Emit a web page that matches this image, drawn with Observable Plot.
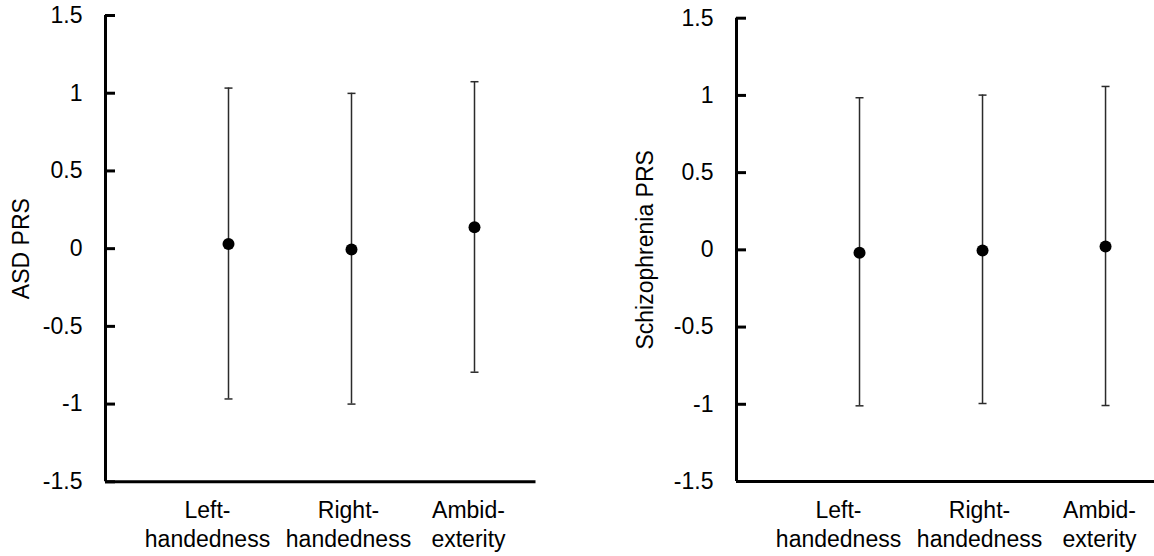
<!DOCTYPE html>
<html>
<head>
<meta charset="utf-8">
<script src="https://cdn.jsdelivr.net/npm/d3@7"></script>
<script src="https://cdn.jsdelivr.net/npm/@observablehq/plot@0.6"></script>
<style>
  html, body { margin: 0; padding: 0; background: #fff; }
  #wrap { position: relative; width: 1154px; height: 556px; overflow: hidden; background: #fff; }
  .panel { position: absolute; top: 0; width: 577px; height: 556px; }
</style>
</head>
<body>
<div id="wrap">
  <div id="left" class="panel" style="left:0"></div>
  <div id="right" class="panel" style="left:577px"></div>
</div>
<script>
const categories = ["Left-\nhandedness", "Right-\nhandedness", "Ambid-\nexterity"];
const yTicks = [-1.5, -1, -0.5, 0, 0.5, 1, 1.5];

const asdMean = [0.03, -0.005, 0.138];
const asdLow  = [-0.967, -1.0, -0.795];
const asdHigh = [1.033, 0.999, 1.074];

const sczMean = [-0.019, -0.004, 0.022];
const sczLow  = [-1.01, -0.995, -1.008];
const sczHigh = [0.985, 1.002, 1.058];

// horizontal label shifts (px) as in the original layout
const labelDx = [-21, -3, -6];

const capSymbol = { draw(ctx) { ctx.moveTo(-4, 0); ctx.lineTo(4, 0); } };

function panel(el, o) {
  const data = categories.map((c, i) => ({ x: i + 1, m: o.mean[i], lo: o.low[i], hi: o.high[i] }));
  const chart = Plot.plot({
    width: 577, height: 556,
    marginLeft: o.marginLeft, marginRight: o.marginRight,
    marginTop: o.marginTop, marginBottom: o.marginBottom,
    style: { fontFamily: "'Liberation Sans', Arial, sans-serif", fontSize: "23px", color: "#000", background: "white", overflow: "visible" },
    x: { domain: [0, o.xMax] },
    y: { domain: [-1.5, 1.5] },
    marks: [
      Plot.ruleX(data, { x: "x", y1: "lo", y2: "hi", stroke: "#2b2b2b", strokeWidth: 1.5 }),
      Plot.dot(data, { x: "x", y: "hi", symbol: capSymbol, stroke: "#2b2b2b", strokeWidth: 1.5 }),
      Plot.dot(data, { x: "x", y: "lo", symbol: capSymbol, stroke: "#2b2b2b", strokeWidth: 1.5 }),
      Plot.dot(data, { x: "x", y: "m", r: 6, fill: "#000", stroke: null }),
      Plot.axisY({ ticks: yTicks, tickFormat: d => String(d), tickSize: -10, tickPadding: 33, strokeWidth: 3,
                   label: o.label, labelAnchor: "center", labelArrow: "none", labelOffset: o.labelOffset }),
      ...categories.map((c, i) => Plot.axisX({ ticks: [i + 1], tickFormat: () => c, tickSize: 0, tickPadding: 16,
                   lineHeight: 1.26, label: null, dx: labelDx[i] })),
      Plot.ruleX([0], { strokeWidth: 3, stroke: "#000" }),
      Plot.ruleY([-1.5], { strokeWidth: 3, stroke: "#000" })
    ]
  });
  document.getElementById(el).appendChild(chart);
}

panel("left", { mean: asdMean, low: asdLow, high: asdHigh, label: "ASD PRS",
  marginLeft: 105, marginRight: 41.5, marginTop: 15, marginBottom: 74.7, xMax: 3.5, labelOffset: 93 });
panel("right", { mean: sczMean, low: sczLow, high: sczHigh, label: "Schizophrenia PRS",
  marginLeft: 159, marginRight: 0, marginTop: 17.7, marginBottom: 75, xMax: 3.398, labelOffset: 100 });
</script>
</body>
</html>
